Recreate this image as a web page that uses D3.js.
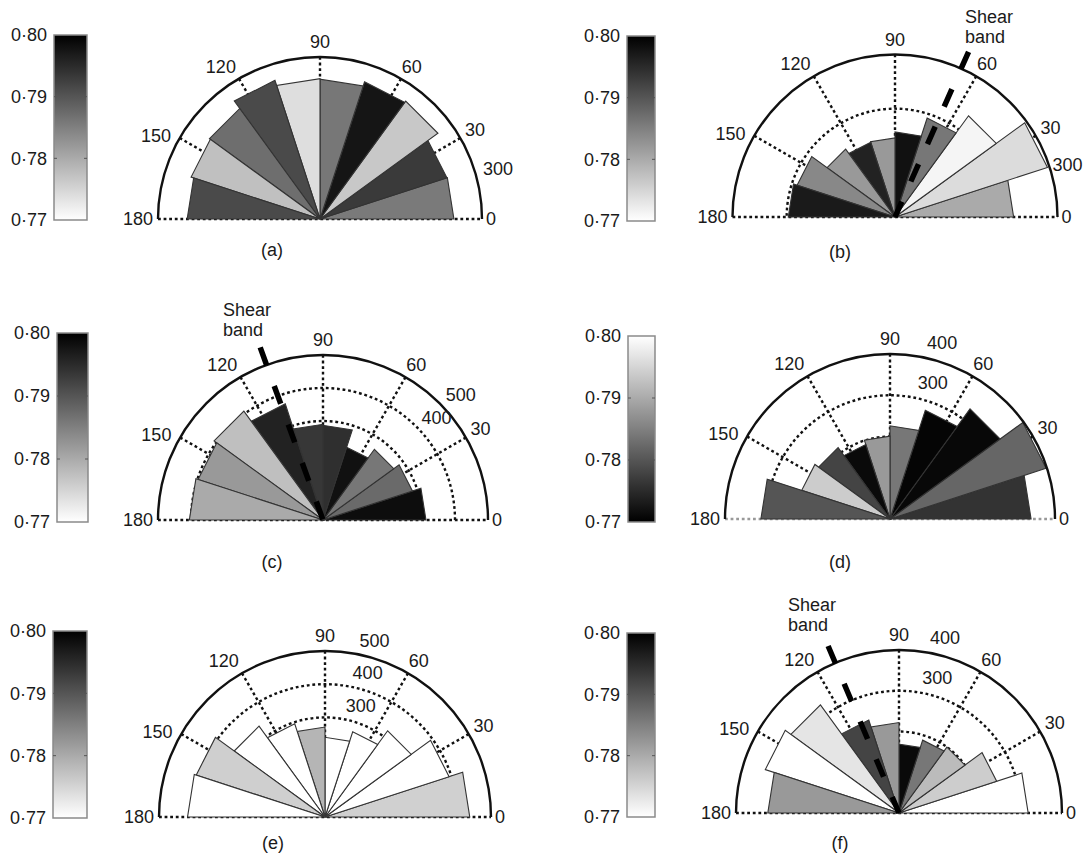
<!DOCTYPE html>
<html><head><meta charset="utf-8">
<script src="https://cdn.jsdelivr.net/npm/d3@7"></script>
<style>
html,body{margin:0;padding:0;background:#fff;}
svg text{font-family:"Liberation Sans",Arial,Helvetica,sans-serif;font-size:18px;fill:#1a1a1a;}
</style></head><body>
<svg id="chart" width="1087" height="854"></svg>
<script>
// ---------------- DATA ----------------
const binStarts = [0, 18, 36, 54, 72, 90, 108, 126, 144, 162];
const binWidth = 18;
const angleTicks = [0, 30, 60, 90, 120, 150, 180];
const colorTicks = [0.77, 0.78, 0.79, 0.80];
const colorDomain = [0.77, 0.80];
const panelNames = ["(a)", "(b)", "(c)", "(d)", "(e)", "(f)"];

const lengthA = [248, 247, 270, 267, 259, 260, 270, 253, 251, 246];
const voidA   = [0.7856, 0.7932, 0.7765, 0.7975, 0.7860, 0.7739, 0.7913, 0.7871, 0.7774, 0.7913];
const lengthB = [219, 296, 231, 192, 157, 146, 145, 155, 190, 197];
const voidB   = [0.7800, 0.7741, 0.7712, 0.7860, 0.7980, 0.7820, 0.7960, 0.7820, 0.7840, 0.7969];
const lengthC = [312, 285, 265, 232, 287, 290, 370, 408, 398, 405];
const voidC   = [0.7985, 0.7875, 0.7860, 0.7980, 0.7945, 0.7935, 0.7960, 0.7775, 0.7820, 0.7800];
const lengthD = [342, 398, 330, 277, 226, 201, 190, 214, 225, 313];
const voidD   = [0.7760, 0.7820, 0.7709, 0.7706, 0.7840, 0.7880, 0.7712, 0.7780, 0.7940, 0.7800];
const lengthE = [436, 393, 321, 270, 240, 271, 295, 338, 408, 414];
const voidE   = [0.7755, 0.7700, 0.7700, 0.7700, 0.7700, 0.7787, 0.7700, 0.7700, 0.7756, 0.7700];
const lengthF = [317, 252, 200, 188, 169, 222, 240, 328, 345, 322];
const voidF   = [0.7700, 0.7759, 0.7780, 0.7860, 0.7988, 0.7820, 0.7920, 0.7731, 0.7700, 0.7820];

const rMaxes = [300, 300, 500, 400, 500, 400];
const ringsA = [100, 200], ringsB = [100, 200], ringsC = [100, 200, 300, 400];
const ringsD = [100, 200, 300], ringsE = [100, 200, 300, 400], ringsF = [100, 200, 300];
const ringLabelsA = [300], ringLabelsB = [300], ringLabelsC = [500, 400];
const ringLabelsD = [400, 300], ringLabelsE = [500, 400, 300], ringLabelsF = [400, 300];
const shearAngles = [null, 66, 110, null, null, 113];
const shearText = ["Shear", "band"];
const reversedMap = [false, false, false, true, false, false];

// ---------------- LAYOUT ----------------
const layout = [
  {cx:320, cy:219, R:162,   cbX:54,  cbY:35,  cbW:33, cbH:185, tagX:272, tagY:250, rlA:17, rlDx:8, rlDy:3},
  {cx:895, cy:217, R:162.5, cbX:627, cbY:36,  cbW:28, cbH:185, tagX:840, tagY:252, rlA:17, rlDx:2, rlDy:1, stX:965, stY:23},
  {cx:323, cy:520, R:165,   cbX:57,  cbY:333, cbW:31, cbH:189, tagX:272, tagY:562, rlA:43, rlDx:2, rlDy:-6, stX:223, stY:316},
  {cx:890, cy:519, R:165,   cbX:628, cbY:336, cbW:27, cbH:186, tagX:840, tagY:562, rlA:77, rlDx:0, rlDy:-9, baseGray:true},
  {cx:325, cy:817, R:166,   cbX:53,  cbY:631, cbW:34, cbH:187, tagX:273, tagY:843, rlA:78, rlDx:0, rlDy:-8},
  {cx:899, cy:813, R:163,   cbX:627, cbY:633, cbW:28, cbH:184, tagX:840, tagY:843, rlA:79, rlDx:0, rlDy:-9, stX:788, stY:611}
];
// label placement around the outer arc: angle -> [drawn angle, extra radius]
const angleLabelPos = {30:[30, 17], 60:[59, 16], 90:[90, 15], 120:[123, 20], 150:[153, 22]};

const panels = [
  {lengths:lengthA, voids:voidA, rings:ringsA, ringLabels:ringLabelsA},
  {lengths:lengthB, voids:voidB, rings:ringsB, ringLabels:ringLabelsB},
  {lengths:lengthC, voids:voidC, rings:ringsC, ringLabels:ringLabelsC},
  {lengths:lengthD, voids:voidD, rings:ringsD, ringLabels:ringLabelsD},
  {lengths:lengthE, voids:voidE, rings:ringsE, ringLabels:ringLabelsE},
  {lengths:lengthF, voids:voidF, rings:ringsF, ringLabels:ringLabelsF}
].map((p, i) => Object.assign(p, {name:panelNames[i], rMax:rMaxes[i], shear:shearAngles[i], reversed:reversedMap[i]}, layout[i]));

// ---------------- DRAW ----------------
const svg = d3.select("#chart");
const defs = svg.append("defs");
const rad = d => d * Math.PI / 180;
const DOT = "2.8,2.8";
const DOTW = 2.4;

panels.forEach((p, idx) => {
  const color = d3.scaleLinear().domain(colorDomain)
      .range(p.reversed ? ["#000000", "#ffffff"] : ["#ffffff", "#000000"]).clamp(true);
  const r = d3.scaleLinear().domain([0, p.rMax]).range([0, p.R]);
  const pt = (deg, rr) => [rr * Math.cos(rad(deg)), -rr * Math.sin(rad(deg))];

  // ---- colorbar ----
  const gid = "grad" + idx;
  const grad = defs.append("linearGradient").attr("id", gid)
      .attr("x1", 0).attr("y1", 1).attr("x2", 0).attr("y2", 0);
  d3.range(0, 1.0001, 0.1).forEach(t => {
    const v = colorDomain[0] + t * (colorDomain[1] - colorDomain[0]);
    grad.append("stop").attr("offset", t).attr("stop-color", color(v));
  });
  const cy = d3.scaleLinear().domain(colorDomain).range([p.cbY + p.cbH, p.cbY]);
  svg.append("rect").attr("x", p.cbX).attr("y", p.cbY).attr("width", p.cbW).attr("height", p.cbH)
     .attr("fill", `url(#${gid})`).attr("stroke", "#8a8a8a").attr("stroke-width", 1.5);
  colorTicks.slice(1, -1).forEach(v => {
    svg.append("line").attr("x1", p.cbX).attr("x2", p.cbX + 3).attr("y1", cy(v)).attr("y2", cy(v))
       .attr("stroke", "#555").attr("stroke-width", 1);
    svg.append("line").attr("x1", p.cbX + p.cbW - 3).attr("x2", p.cbX + p.cbW).attr("y1", cy(v)).attr("y2", cy(v))
       .attr("stroke", "#555").attr("stroke-width", 1);
  });
  const ax = svg.append("g").attr("transform", `translate(${p.cbX},0)`)
     .call(d3.axisLeft(cy).tickValues(colorTicks).tickSize(0).tickPadding(7)
       .tickFormat(d => d.toFixed(2).replace(".", "\u00B7")));
  ax.select(".domain").remove();
  ax.attr("font-size", null).attr("font-family", null);
  ax.selectAll("text").attr("fill", null);

  // ---- polar panel ----
  const g = svg.append("g").attr("transform", `translate(${p.cx},${p.cy})`);

  // rings (dotted)
  p.rings.forEach(v => {
    const path = d3.path();
    path.moveTo(r(v), 0);
    path.arc(0, 0, r(v), 0, -Math.PI, true);
    g.append("path").attr("d", path.toString()).attr("fill", "none")
     .attr("stroke", "#111").attr("stroke-width", DOTW).attr("stroke-dasharray", DOT);
  });
  // radial spokes
  angleTicks.filter(a => a > 0 && a < 180).forEach(a => {
    const [x, y] = pt(a, p.R);
    g.append("line").attr("x1", x).attr("y1", y).attr("x2", 0).attr("y2", 0)
     .attr("stroke", "#111").attr("stroke-width", DOTW).attr("stroke-dasharray", DOT);
  });
  // baseline
  g.append("line").attr("x1", -p.R).attr("x2", p.R).attr("y1", 0).attr("y2", 0)
   .attr("stroke", p.baseGray ? "#999" : "#111").attr("stroke-width", DOTW).attr("stroke-dasharray", DOT);

  // sectors
  g.selectAll("path.sector").data(binStarts.map((s, i) => ({s, L:p.lengths[i], v:p.voids[i]})))
   .join("path").attr("class", "sector")
   .attr("d", d => {
      const [x1, y1] = pt(d.s, r(d.L));
      const [x2, y2] = pt(d.s + binWidth, r(d.L));
      return `M0,0L${x1},${y1}L${x2},${y2}Z`;
   })
   .attr("fill", d => color(d.v))
   .attr("stroke", "#333").attr("stroke-width", 1.1).attr("stroke-linejoin", "miter");

  // outer arc
  const outer = d3.path();
  outer.moveTo(p.R, 0);
  outer.arc(0, 0, p.R, 0, -Math.PI, true);
  g.append("path").attr("d", outer.toString()).attr("fill", "none")
   .attr("stroke", "#111").attr("stroke-width", 2.4);

  // shear band
  if (p.shear !== null) {
    const [x, y] = pt(p.shear, p.R * 1.113);
    g.append("line").attr("x1", x).attr("y1", y).attr("x2", 0).attr("y2", 0)
     .attr("stroke", "#000").attr("stroke-width", 5.5).attr("stroke-dasharray", "19,22");
    const t = svg.append("text").attr("x", p.stX).attr("y", p.stY);
    shearText.forEach((s, i) => {
      t.append("tspan").attr("x", p.stX).attr("dy", i === 0 ? 0 : 20).text(s);
    });
  }

  // angle labels
  angleTicks.forEach(a => {
    const lab = String(a);
    if (a === 0) {
      g.append("text").attr("x", p.R + 4).attr("y", 0).attr("dy", "0.35em").attr("text-anchor", "start").text(lab);
    } else if (a === 180) {
      g.append("text").attr("x", -p.R - 5).attr("y", 0).attr("dy", "0.35em").attr("text-anchor", "end").text(lab);
    } else {
      const [ang, extra] = angleLabelPos[a];
      const [x, y] = pt(ang, p.R + extra);
      g.append("text").attr("x", x).attr("y", y).attr("dy", "0.35em").attr("text-anchor", "middle").text(lab);
    }
  });

  // ring labels
  p.ringLabels.forEach(v => {
    const [x, y] = pt(p.rlA, r(v));
    g.append("text").attr("x", x + p.rlDx).attr("y", y + p.rlDy).attr("text-anchor", "start").text(v);
  });

  // panel tag
  svg.append("text").attr("x", p.tagX).attr("y", p.tagY).attr("dy", "0.35em")
     .attr("text-anchor", "middle").text(p.name);
});
</script>
</body></html>
